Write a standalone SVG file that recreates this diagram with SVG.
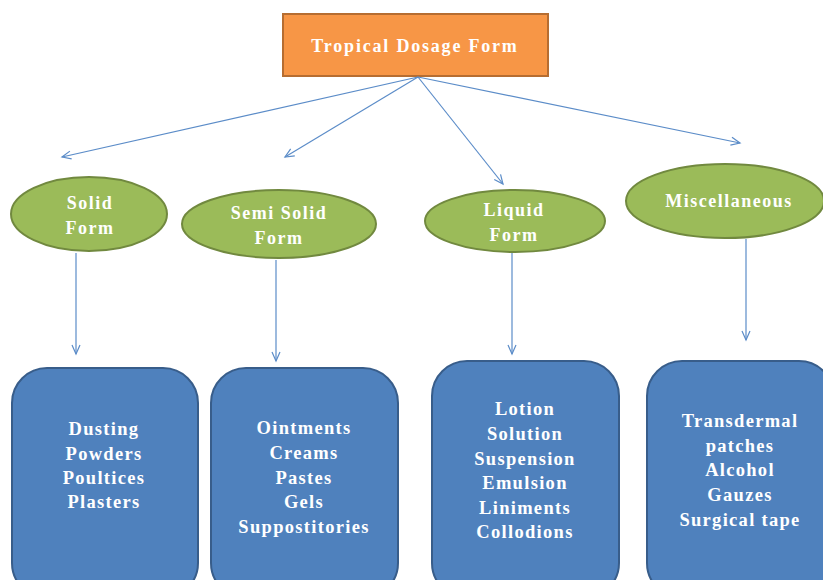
<svg xmlns="http://www.w3.org/2000/svg" width="823" height="580" viewBox="0 0 823 580">
<defs>
<marker id="arr" markerWidth="12" markerHeight="12" refX="10" refY="5" orient="auto" markerUnits="userSpaceOnUse">
<polyline points="1,1 10,5 1,9" fill="none" stroke="#5B8CC8" stroke-width="1.2"/>
</marker>
<style>
text{font-family:"Liberation Serif","DejaVu Serif",serif;font-weight:bold;fill:#fff;text-anchor:middle}
.t{font-size:18px;letter-spacing:1.8px}
.e{font-size:18px;letter-spacing:1.5px}
.b{font-size:18.5px;letter-spacing:1.3px}
ellipse{fill:#9BBB59;stroke:#71893F;stroke-width:2}
.box{fill:#4F81BD;stroke:#385D8A;stroke-width:2}
.c line{stroke:#5B8CC8;stroke-width:1.2;marker-end:url(#arr)}
</style>
</defs>
<rect width="823" height="580" fill="#fff"/>
<g id="root">
<rect x="283" y="14" width="265" height="62" fill="#F79646" stroke="#B66D31" stroke-width="2"/>
<text class="t" x="415" y="52">Tropical Dosage Form</text>
</g>
<g class="c" id="connectors">
<line x1="418" y1="77" x2="62" y2="157"/>
<line x1="418" y1="77" x2="285" y2="157"/>
<line x1="418" y1="77" x2="503" y2="184"/>
<line x1="418" y1="77" x2="740" y2="143"/>
<line x1="76" y1="253" x2="76" y2="354"/>
<line x1="276" y1="260" x2="276" y2="361"/>
<line x1="512" y1="253" x2="512" y2="354"/>
<line x1="746" y1="239" x2="746" y2="340"/>
</g>
<g id="solid">
<ellipse cx="89" cy="214" rx="78" ry="37"/>
<text class="e" x="90" y="209">Solid</text>
<text class="e" x="90" y="234">Form</text>
</g>
<g id="semisolid">
<ellipse cx="279" cy="224" rx="97" ry="34"/>
<text class="e" x="279" y="219">Semi Solid</text>
<text class="e" x="279" y="244">Form</text>
</g>
<g id="liquid">
<ellipse cx="515" cy="221" rx="90" ry="31"/>
<text class="e" x="514" y="216">Liquid</text>
<text class="e" x="514" y="241">Form</text>
</g>
<g id="misc">
<ellipse cx="725" cy="201" rx="99" ry="37"/>
<text class="e" x="729" y="207">Miscellaneous</text>
</g>
<g id="box1">
<rect class="box" x="12" y="368" width="186" height="230" rx="35"/>
<text class="b" x="104" y="435">Dusting</text>
<text class="b" x="104" y="460">Powders</text>
<text class="b" x="104" y="484">Poultices</text>
<text class="b" x="104" y="508">Plasters</text>
</g>
<g id="box2">
<rect class="box" x="211" y="368" width="187" height="230" rx="35"/>
<text class="b" x="304" y="434">Ointments</text>
<text class="b" x="304" y="459">Creams</text>
<text class="b" x="304" y="484">Pastes</text>
<text class="b" x="304" y="508">Gels</text>
<text class="b" x="304" y="533">Suppostitories</text>
</g>
<g id="box3">
<rect class="box" x="432" y="361" width="187" height="237" rx="35"/>
<text class="b" x="525" y="415">Lotion</text>
<text class="b" x="525" y="440">Solution</text>
<text class="b" x="525" y="465">Suspension</text>
<text class="b" x="525" y="489">Emulsion</text>
<text class="b" x="525" y="514">Liniments</text>
<text class="b" x="525" y="538">Collodions</text>
</g>
<g id="box4">
<rect class="box" x="647" y="361" width="187" height="237" rx="35"/>
<text class="b" x="740" y="427">Transdermal</text>
<text class="b" x="740" y="452">patches</text>
<text class="b" x="740" y="476">Alcohol</text>
<text class="b" x="740" y="501">Gauzes</text>
<text class="b" x="740" y="526">Surgical tape</text>
</g>
</svg>
